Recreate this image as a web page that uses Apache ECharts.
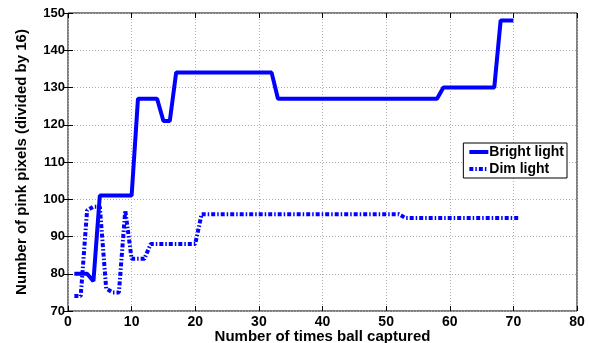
<!DOCTYPE html>
<html>
<head>
<meta charset="utf-8">
<script src="https://cdn.jsdelivr.net/npm/echarts@6/dist/echarts.min.js"></script>
<style>
  html, body { margin: 0; padding: 0; background: #fff; }
  #chart { width: 589px; height: 343px; }
</style>
</head>
<body>
<div id="chart"></div>
<script>
// number of times the ball was captured
var brightX = [1, 2, 3, 4, 5, 6, 7, 8, 9, 10, 11, 12, 13, 14, 15, 16, 17, 18, 19, 20,
  21, 22, 23, 24, 25, 26, 27, 28, 29, 30, 31, 32, 33, 34, 35, 36, 37, 38, 39, 40,
  41, 42, 43, 44, 45, 46, 47, 48, 49, 50, 51, 52, 53, 54, 55, 56, 57, 58, 59, 60,
  61, 62, 63, 64, 65, 66, 67, 68, 69, 70]
var brightY = [80, 80, 80, 78, 101, 101, 101, 101, 101, 101, 127, 127, 127, 127, 121, 121, 134, 134, 134, 134,
  134, 134, 134, 134, 134, 134, 134, 134, 134, 134, 134, 134, 127, 127, 127, 127, 127, 127, 127, 127,
  127, 127, 127, 127, 127, 127, 127, 127, 127, 127, 127, 127, 127, 127, 127, 127, 127, 127, 130, 130,
  130, 130, 130, 130, 130, 130, 130, 148, 148, 148]

var dimX = [1, 2, 3, 4, 5, 6, 7, 8, 9, 10, 11, 12, 13, 14, 15, 16, 17, 18, 19, 20,
  21, 22, 23, 24, 25, 26, 27, 28, 29, 30, 31, 32, 33, 34, 35, 36, 37, 38, 39, 40,
  41, 42, 43, 44, 45, 46, 47, 48, 49, 50, 51, 52, 53, 54, 55, 56, 57, 58, 59, 60,
  61, 62, 63, 64, 65, 66, 67, 68, 69, 70, 71]
var dimY = [74, 74, 97, 98, 98, 76, 75, 75, 97, 84, 84, 84, 88, 88, 88, 88, 88, 88, 88, 88,
  96, 96, 96, 96, 96, 96, 96, 96, 96, 96, 96, 96, 96, 96, 96, 96, 96, 96, 96, 96,
  96, 96, 96, 96, 96, 96, 96, 96, 96, 96, 96, 96, 95, 95, 95, 95, 95, 95, 95, 95,
  95, 95, 95, 95, 95, 95, 95, 95, 95, 95, 95]

var font = 'Liberation Sans, Arial, Helvetica, sans-serif'

function pairs(xs, ys) {
  return xs.map(function (x, i) { return [x, ys[i]] })
}

var chart = echarts.init(document.getElementById('chart'))

var gridLine = { show: true, lineStyle: { color: '#b0b0b0', type: [1, 2], width: 1 } }
var nameStyle = { color: '#000', fontFamily: font, fontWeight: 'bold', fontSize: 15 }
var tick = { inside: true, length: 5, lineStyle: { color: '#000' } }

chart.setOption({
  animation: false,
  grid: {
    left: 68, right: 12, top: 13, bottom: 32,
    outerBoundsMode: 'none',
    show: true, borderColor: '#000', borderWidth: 1
  },
  legend: {
    right: 22, top: 143,
    orient: 'vertical',
    backgroundColor: '#fff',
    borderColor: '#000',
    borderWidth: 1,
    borderRadius: 0,
    padding: [2, 3, 2, 4],
    itemGap: 3,
    itemWidth: 19,
    itemHeight: 14,
    itemStyle: { opacity: 0 },
    lineStyle: { width: 4 },
    textStyle: { color: '#000', fontFamily: font, fontWeight: 'bold', fontSize: 14, padding: [0, 0, 0, -4] },
    data: ['Bright light', 'Dim light']
  },
  xAxis: [{
    type: 'value', min: 0, max: 80, interval: 10,
    name: 'Number of times ball captured',
    nameLocation: 'middle', nameGap: 18,
    nameMoveOverlap: false,
    nameTextStyle: nameStyle,
    axisLine: { show: false },
    axisTick: tick,
    axisLabel: { color: '#000', fontFamily: font, fontWeight: 'bold', fontSize: 14, margin: 4 },
    splitLine: gridLine
  }, {
    type: 'value', min: 0, max: 80, interval: 10, position: 'top',
    axisLine: { show: false },
    axisTick: tick,
    axisLabel: { show: false },
    splitLine: { show: false }
  }],
  yAxis: [{
    type: 'value', min: 70, max: 150, interval: 10,
    name: 'Number of pink pixels (divided by 16)',
    nameLocation: 'middle', nameGap: 39,
    nameMoveOverlap: false,
    nameTextStyle: nameStyle,
    axisLine: { show: false },
    axisTick: tick,
    axisLabel: { color: '#000', fontFamily: font, fontWeight: 'bold', fontSize: 13, margin: 3 },
    splitLine: gridLine
  }, {
    type: 'value', min: 70, max: 150, interval: 10, position: 'right',
    axisLine: { show: false },
    axisTick: tick,
    axisLabel: { show: false },
    splitLine: { show: false }
  }],
  series: [{
    name: 'Bright light',
    type: 'line',
    data: pairs(brightX, brightY),
    symbol: 'none',
    color: '#0000ff',
    lineStyle: { color: '#0000ff', width: 4 }
  }, {
    name: 'Dim light',
    type: 'line',
    data: pairs(dimX, dimY),
    symbol: 'none',
    color: '#0000ff',
    lineStyle: { color: '#0000ff', width: 4, type: [4, 2, 1.5, 2] }
  }]
})
</script>
</body>
</html>
